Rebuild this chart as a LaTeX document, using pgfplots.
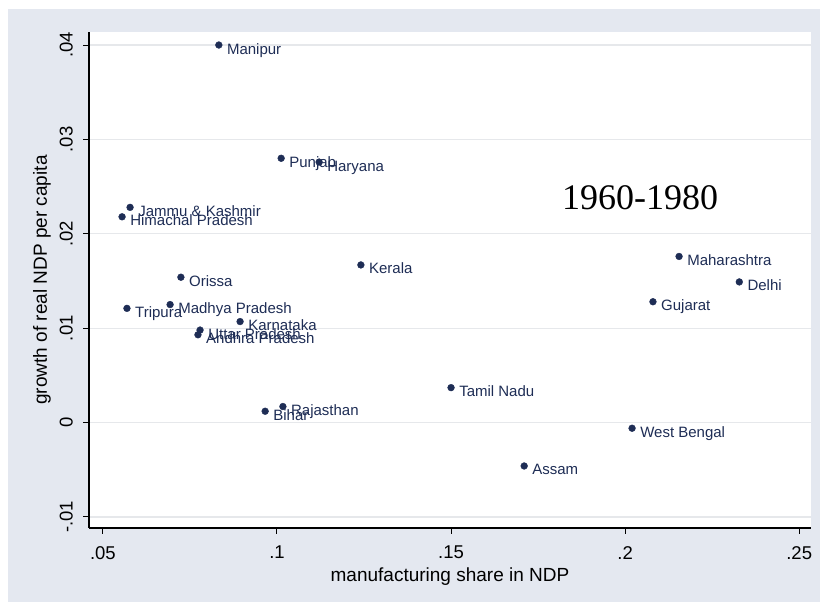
\documentclass[border=0pt]{standalone}
\usepackage{pgfplots}
\pgfplotsset{compat=1.18}
\usepackage{fontspec}
\setmainfont{Liberation Sans}
\newfontfamily\timesfont{Liberation Serif}
\definecolor{bgray}{RGB}{228,232,240}
\definecolor{navy}{RGB}{30,45,85}
\definecolor{gridc}{RGB}{230,232,235}

\begin{document}
\begin{tikzpicture}[x=1bp,y=1bp]
% page and graph region
\path[use as bounding box, fill=white] (-89,-74) rectangle (731,528);
\fill[bgray] (-81,-74) rectangle (731,519);
\begin{axis}[
    scale only axis,
    width=722bp, height=496bp,
    at={(0,0)}, anchor=south west,
    xmin=0.046, xmax=0.2534,
    ymin=-0.01117, ymax=0.04138,
    scaled ticks=false,
    axis lines*=left,
    axis line style={black, line width=1.2bp},
    axis background/.style={fill=white},
    xtick={0.05,0.1,0.15,0.2,0.25},
    xticklabels={.05,.1,.15,.2,.25},
    ytick={-0.01,0,0.01,0.02,0.03,0.04},
    yticklabels={-.01,0,.01,.02,.03,.04},
    tick align=outside,
    major tick length=6bp,
    tick style={black, line width=1bp},
    ymajorgrids,
    major grid style={gridc, line width=1.2bp},
    xticklabel style={anchor=north, inner sep=0pt, font=\fontsize{18.5bp}{18.5bp}\selectfont},
    yticklabel style={rotate=90, anchor=south, inner sep=0pt, font=\fontsize{18.5bp}{18.5bp}\selectfont},
    xticklabel shift=12bp,
    yticklabel shift=10bp,
    xlabel={manufacturing share in NDP},
    ylabel={growth of real NDP per capita},
    xlabel style={at={(axis description cs:0.5,-0.0988)}, anchor=center, font=\fontsize{19bp}{19bp}\selectfont},
    ylabel style={at={(axis description cs:-0.0651,0.5)}, anchor=center, font=\fontsize{19bp}{19bp}\selectfont},
    clip=false,
]
\addplot[only marks, mark=*, mark size=3.4bp, navy,
    point meta=explicit symbolic,
    nodes near coords,
    every node near coord/.style={anchor=base west, inner sep=0pt, xshift=8bp, yshift=-9bp,
        text=navy, font=\fontsize{15bp}{15bp}\selectfont},
] coordinates {
    (0.0833,0.0400) [Manipur]
    (0.1012,0.0280) [Punjab]
    (0.1121,0.0276) [Haryana]
    (0.0578,0.0228) [Jammu \& Kashmir]
    (0.0555,0.0218) [Himachal Pradesh]
    (0.1241,0.0167) [Kerala]
    (0.0724,0.0154) [Orissa]
    (0.2155,0.0176) [Maharashtra]
    (0.2328,0.0149) [Delhi]
    (0.2080,0.0128) [Gujarat]
    (0.0569,0.0121) [Tripura]
    (0.0693,0.0125) [Madhya Pradesh]
    (0.0894,0.0107) [Karnataka]
    (0.0779,0.0098) [Uttar Pradesh]
    (0.0773,0.0093) [Andhra Pradesh]
    (0.1500,0.0037) [Tamil Nadu]
    (0.1017,0.0017) [Rajasthan]
    (0.0966,0.0012) [Bihar]
    (0.2020,-0.0006) [West Bengal]
    (0.1710,-0.0046) [Assam]
};
\node[font=\timesfont\fontsize{36bp}{36bp}\selectfont, text=black] at (axis cs:0.2043,0.0238) {1960-1980};
\end{axis}
\end{tikzpicture}
\end{document}
